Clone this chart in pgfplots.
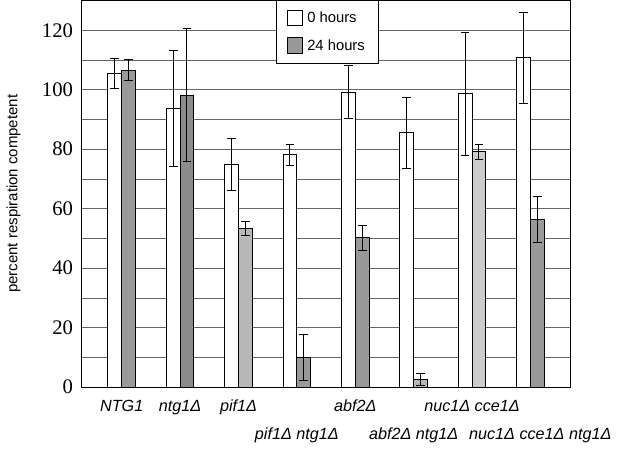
\documentclass[border=0pt]{standalone}
\usepackage{fontspec}
\setmainfont{Liberation Sans}
\newfontfamily\serifnum{Liberation Serif}
\usepackage{pgfplots}
\pgfplotsset{compat=1.18}
\usepackage{pgfplotstable}
\definecolor{gA}{gray}{0.55}
\definecolor{gB}{gray}{0.60}
\definecolor{gC}{gray}{0.72}
\definecolor{gD}{gray}{0.80}
\pgfplotstableread{
x y e
0 105.5 5.0
1 93.7 19.6
2 74.8 8.8
3 78.1 3.5
4 99.2 9.0
5 85.5 11.9
6 98.6 20.7
7 110.7 15.4
}\zerohours
\begin{document}
\begin{tikzpicture}
\begin{axis}[
  scale only axis,
  width=247.5pt, height=196pt,
  xmin=-0.68, xmax=7.68,
  ymin=0, ymax=130,
  ybar, bar width=7pt,
  ytick={0,20,...,120},
  minor ytick={10,30,...,130},
  ymajorgrids, yminorgrids,
  grid style={gray!80!black, line width=0.35pt},
  minor grid style={gray!80!black, line width=0.35pt},
  major tick length=0pt, minor tick length=0pt,
  axis line style={black, line width=0.5pt},
  /pgf/number format/assume math mode=true,
  yticklabel style={font=\serifnum\fontsize{10.5}{12}\selectfont, xshift=-1pt},
  ylabel={percent respiration competent},
  ylabel style={font=\fontsize{7.6}{9}\selectfont, yshift=4pt},
  xtick={0,...,7},
  xticklabels={NTG1, ntg1Δ, pif1Δ, \mbox{}\\[10pt]pif1Δ ntg1Δ, abf2Δ, \mbox{}\\[10pt]abf2Δ ntg1Δ, nuc1Δ cce1Δ, \mbox{}\\[10pt]\hspace*{10pt}nuc1Δ cce1Δ ntg1Δ},
  xticklabel style={font=\itshape\fontsize{8.2}{10}\selectfont, align=center, anchor=north, yshift=-3pt},
  legend style={at={(0.398,1)}, anchor=north west, font=\fontsize{7.5}{9}\selectfont, draw=black, line width=0.5pt, row sep=3pt, inner xsep=5pt, inner ysep=3.5pt},
  legend cell align=left,
  legend image code/.code={\draw[#1, line width=0.5pt] (0cm,-0.13cm) rectangle (0.28cm,0.15cm);},
  error bars/y dir=both, error bars/y explicit,
  error bars/error bar style={black, line width=0.5pt},
  error bars/error mark options={rotate=90, mark size=2.2pt, line width=0.5pt},
]
\addplot[bar shift=-3.5pt, fill=white, draw=black, line width=0.5pt]
  table[x=x, y=y, y error=e]{\zerohours};
\addlegendentry{0 hours}
\addplot[bar shift=3.5pt, fill=gB, draw=black, line width=0.5pt]
  coordinates {(0,106.5) +- (0,3.5)};
\addlegendentry{24 hours}
\addplot[bar shift=3.5pt, fill=gA, draw=black, line width=0.5pt, forget plot]
  coordinates {(1,98.2) +- (0,22.3)};
\addplot[bar shift=3.5pt, fill=gC, draw=black, line width=0.5pt, forget plot]
  coordinates {(2,53.4) +- (0,2.4)};
\addplot[bar shift=3.5pt, fill=gB, draw=black, line width=0.5pt, forget plot]
  coordinates {(3,10.0) +- (0,7.8)};
\addplot[bar shift=3.5pt, fill=gB, draw=black, line width=0.5pt, forget plot]
  coordinates {(4,50.2) +- (0,4.1)};
\addplot[bar shift=3.5pt, fill=gC, draw=black, line width=0.5pt, forget plot]
  coordinates {(5,2.5) +- (0,2.0)};
\addplot[bar shift=3.5pt, fill=gD, draw=black, line width=0.5pt, forget plot]
  coordinates {(6,79.2) +- (0,2.5)};
\addplot[bar shift=3.5pt, fill=gB, draw=black, line width=0.5pt, forget plot]
  coordinates {(7,56.3) +- (0,7.8)};
\end{axis}
\end{tikzpicture}
\end{document}
